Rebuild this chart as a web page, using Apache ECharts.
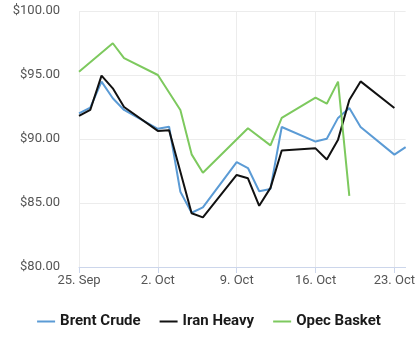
<!DOCTYPE html>
<html>
<head>
<meta charset="utf-8">
<script src="https://cdn.jsdelivr.net/npm/echarts@6/dist/echarts.min.js"></script>
<style>
  html, body { margin: 0; padding: 0; background: #fff; }
  #chart { width: 418px; height: 351px; }
</style>
</head>
<body>
<div id="chart"></div>
<script>
// business days only, weekends left empty and joined over
const days = ['25. Sep', '26. Sep', '27. Sep', '28. Sep', '29. Sep', '30. Sep', '1. Oct',
  '2. Oct', '3. Oct', '4. Oct', '5. Oct', '6. Oct', '7. Oct', '8. Oct',
  '9. Oct', '10. Oct', '11. Oct', '12. Oct', '13. Oct', '14. Oct', '15. Oct',
  '16. Oct', '17. Oct', '18. Oct', '19. Oct', '20. Oct', '21. Oct', '22. Oct',
  '23. Oct', '24. Oct']

const brent = [92.0, 92.45, 94.48, 93.18, 92.27, null, null,
  90.8, 90.96, 85.88, 84.24, 84.66, null, null,
  88.2, 87.73, 85.92, 86.1, 90.94, null, null,
  89.8, 90.02, 91.65, 92.42, 90.94, null, null,
  88.78, 89.37]

const iran = [91.8, 92.27, 94.95, 93.96, 92.5, null, null,
  90.63, 90.68, null, 84.2, 83.88, null, null,
  87.19, 86.93, 84.78, 86.18, 89.1, null, null,
  89.27, 88.4, 89.95, 93.05, 94.5, null, null,
  92.42, null]

const opec = [95.26, null, null, 97.48, 96.32, null, null,
  95.0, null, 92.27, 88.8, 87.37, null, null,
  null, 90.84, null, 89.5, 91.65, null, null,
  93.24, 92.76, 94.48, 85.55, null, null, null,
  null, null]

const chart = echarts.init(document.getElementById('chart'))

const lineSeries = (name, data, color) => ({
  name: name,
  type: 'line',
  data: data,
  connectNulls: true,
  showSymbol: false,
  symbol: 'none',
  lineStyle: { color: color, width: 2 },
  itemStyle: { color: color }
})

chart.setOption({
  animation: false,
  textStyle: { fontFamily: 'Roboto' },
  grid: { left: 79, right: 12, top: 11, bottom: 84 },
  legend: {
    bottom: 17,
    left: 'center',
    itemWidth: 18,
    itemHeight: 2,
    itemGap: 19,
    icon: 'rect',
    textStyle: { fontSize: 15, fontWeight: 'bold', color: '#1a1a1a', fontFamily: 'Roboto' }
  },
  xAxis: {
    type: 'category',
    data: days,
    boundaryGap: false,
    axisLine: { lineStyle: { color: '#ccd6eb' } },
    axisTick: { interval: 6, length: 6, lineStyle: { color: '#ccd6eb' } },
    axisLabel: { interval: 6, color: '#555', fontSize: 13, margin: 7 },
    splitLine: { show: true, interval: 6, lineStyle: { color: '#ececec' } }
  },
  yAxis: {
    type: 'value',
    min: 80,
    max: 100,
    interval: 5,
    axisLabel: {
      color: '#555',
      fontSize: 13,
      margin: 19,
      formatter: v => '$' + v.toFixed(2)
    },
    splitLine: { lineStyle: { color: '#ececec' } }
  },
  series: [
    lineSeries('Brent Crude', brent, '#5b9bd5'),
    lineSeries('Iran Heavy', iran, '#111111'),
    lineSeries('Opec Basket', opec, '#7dc95e')
  ]
})
</script>
</body>
</html>
